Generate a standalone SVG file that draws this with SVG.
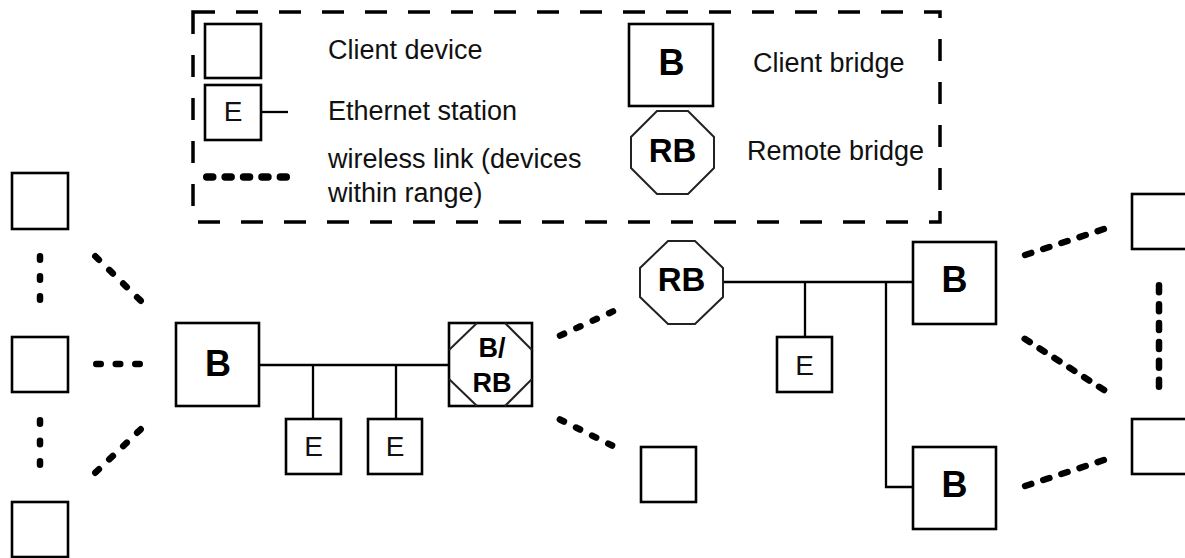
<svg xmlns="http://www.w3.org/2000/svg" width="1185" height="558" viewBox="0 0 1185 558">
<style>
  .box { fill: #fff; stroke: #000; stroke-width: 2.6; }
  .oct { fill: #fff; stroke: #222; stroke-width: 2; }
  .cut { fill: none; stroke: #222; stroke-width: 2; }
  .eth { fill: none; stroke: #000; stroke-width: 2.3; }
  .w { fill: none; stroke: #000; stroke-width: 6.5; stroke-linecap: round; }
  .legend { fill: none; stroke: #000; stroke-width: 3.5; stroke-dasharray: 22 21; }
  .t { font-family: "Liberation Sans", Arial, sans-serif; font-size: 27px; fill: #111; }
  .e { font-family: "Liberation Sans", Arial, sans-serif; font-size: 28px; fill: #111; text-anchor: middle; }
  .bB { font-family: "Liberation Sans", Arial, sans-serif; font-weight: bold; font-size: 36px; fill: #000; text-anchor: middle; }
  .bRB { font-family: "Liberation Sans", Arial, sans-serif; font-weight: bold; font-size: 33px; fill: #000; text-anchor: middle; }
  .bBRB { font-family: "Liberation Sans", Arial, sans-serif; font-weight: bold; font-size: 27px; fill: #000; text-anchor: middle; }
</style>

<!-- Legend -->
<g id="legend">
  <rect class="legend" x="193" y="12" width="747" height="210"/>
  <rect class="box" x="205" y="24" width="56" height="54"/>
  <text class="t" x="328" y="59">Client device</text>
  <rect class="box" x="205" y="85" width="56" height="55"/>
  <text class="e" x="233" y="121">E</text>
  <line class="eth" x1="261" y1="112" x2="288" y2="112"/>
  <text class="t" x="328" y="120">Ethernet station</text>
  <line class="w" x1="206.75" y1="177" x2="286.25" y2="177" style="stroke-width:7.5" stroke-dasharray="6 12.4"/>
  <text class="t" x="328" y="168">wireless link (devices</text>
  <text class="t" x="328" y="202">within range)</text>
  <rect class="box" x="629" y="24" width="84" height="82"/>
  <text class="bB" x="671.5" y="75">B</text>
  <text class="t" x="753" y="72">Client bridge</text>
  <polygon class="oct" points="657,111 688,111 714,137 714,168 688,194 657,194 631,168 631,137"/>
  <text class="bRB" x="672.5" y="162">RB</text>
  <text class="t" x="747" y="160">Remote bridge</text>
</g>

<!-- Connectors -->
<g id="connectors">
  <!-- Ethernet segments -->
  <line class="eth" x1="259" y1="365" x2="449" y2="365"/>
  <line class="eth" x1="313" y1="365" x2="313" y2="419"/>
  <line class="eth" x1="396" y1="365" x2="396" y2="419"/>
  <line class="eth" x1="723" y1="282" x2="913" y2="282"/>
  <line class="eth" x1="805" y1="282" x2="805" y2="337"/>
  <polyline class="eth" points="886,282 886,487 913,487"/>
  <!-- Wireless links -->
  <line class="w" x1="40" y1="256.25" x2="40" y2="299.75" stroke-dasharray="3.5 16.5"/>
  <line class="w" x1="40" y1="420.25" x2="40" y2="464.75" stroke-dasharray="3.5 17"/>
  <line class="w" x1="96.25" y1="364" x2="139.75" y2="364" stroke-dasharray="4.5 15"/>
  <line class="w" x1="95.3" y1="256.3" x2="140.7" y2="300.7" stroke-dasharray="5 14.5"/>
  <line class="w" x1="95.3" y1="472.7" x2="140.7" y2="429.3" stroke-dasharray="5 14.3"/>
  <line class="w" x1="560" y1="335.6" x2="613" y2="311.4" stroke-dasharray="4.5 13.5"/>
  <line class="w" x1="559.9" y1="419.5" x2="612.1" y2="445.5" stroke-dasharray="4.5 13.5"/>
  <line class="w" x1="1025.1" y1="255" x2="1103.9" y2="229" stroke-dasharray="6.5 12.6"/>
  <line class="w" x1="1024.7" y1="338.8" x2="1104.3" y2="390.2" stroke-dasharray="6 11.7"/>
  <line class="w" x1="1159" y1="285.25" x2="1159" y2="386.75" stroke-dasharray="7 11.9"/>
  <line class="w" x1="1025.1" y1="486" x2="1103.9" y2="460" stroke-dasharray="6.5 12.6"/>
</g>

<!-- Left client devices -->
<g id="client-left-1"><rect class="box" x="12" y="173" width="56" height="56"/></g>
<g id="client-left-2"><rect class="box" x="12" y="337" width="56" height="55"/></g>
<g id="client-left-3"><rect class="box" x="12" y="502" width="56" height="55"/></g>

<!-- Left bridge -->
<g id="bridge-left">
  <rect class="box" x="176" y="323" width="83" height="83"/>
  <text class="bB" x="218" y="376">B</text>
</g>

<!-- Ethernet stations left -->
<g id="station-1">
  <rect class="box" x="286" y="419" width="55" height="55"/>
  <text class="e" x="313.5" y="456">E</text>
</g>
<g id="station-2">
  <rect class="box" x="368" y="419" width="54" height="55"/>
  <text class="e" x="395" y="456">E</text>
</g>

<!-- B/RB -->
<g id="bridge-brb">
  <rect class="box" x="449" y="323" width="83" height="83"/>
  <line class="cut" x1="449" y1="350" x2="477" y2="323"/>
  <line class="cut" x1="505" y1="323" x2="532" y2="350"/>
  <line class="cut" x1="532" y1="379" x2="505" y2="406"/>
  <line class="cut" x1="477" y1="406" x2="449" y2="379"/>
  <text class="bBRB" x="492" y="357">B/</text>
  <text class="bBRB" x="492" y="392">RB</text>
</g>

<!-- Client below B/RB -->
<g id="client-mid"><rect class="box" x="641" y="447" width="55" height="55"/></g>

<!-- Remote bridge -->
<g id="remote-bridge">
  <polygon class="oct" points="668,241 695,241 723,268 723,297 695,324 668,324 640,297 640,268"/>
  <text class="bRB" x="681.5" y="291">RB</text>
</g>

<!-- Ethernet station right -->
<g id="station-3">
  <rect class="box" x="777" y="337" width="55" height="55"/>
  <text class="e" x="804.5" y="375">E</text>
</g>

<!-- Right bridges -->
<g id="bridge-right-1">
  <rect class="box" x="913" y="242" width="83" height="82"/>
  <text class="bB" x="954.5" y="292">B</text>
</g>
<g id="bridge-right-2">
  <rect class="box" x="913" y="447" width="83" height="82"/>
  <text class="bB" x="954.5" y="497">B</text>
</g>

<!-- Right client devices -->
<g id="client-right-1"><rect class="box" x="1132" y="194" width="60" height="55"/></g>
<g id="client-right-2"><rect class="box" x="1132" y="419" width="60" height="55"/></g>
</svg>
